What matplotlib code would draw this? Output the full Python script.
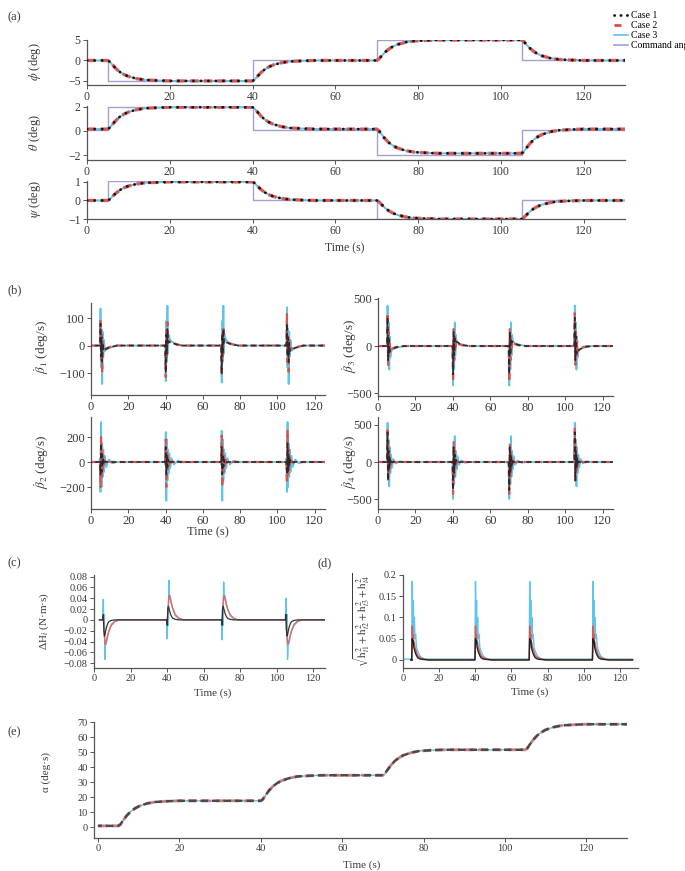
import matplotlib
matplotlib.use('Agg')
import matplotlib.pyplot as plt
from matplotlib.lines import Line2D

plt.rcParams['font.family'] = ['Liberation Serif', 'DejaVu Serif']
plt.rcParams['mathtext.fontset'] = 'stix'

# ---------------- data ----------------
steps = [5, 40, 70, 105]

# panel (a): attitude responses
t_a = [0, 5, 5.5, 6, 7, 8, 9, 10, 12, 14, 17, 20, 25, 30, 35,
       40, 40.5, 41, 42, 43, 44, 45, 47, 49, 52, 55, 60, 65,
       70, 70.5, 71, 72, 73, 74, 75, 77, 79, 82, 85, 90, 95, 100,
       105, 105.5, 106, 107, 108, 109, 110, 112, 114, 117, 120, 125, 130]
phi = [0, 0, -0.3, -0.9, -2.0, -2.85, -3.45, -3.9, -4.45, -4.75, -4.9, -5.0, -5, -5, -5,
       -5, -4.7, -4.1, -3.0, -2.15, -1.55, -1.1, -0.55, -0.25, -0.1, 0, 0, 0,
       0, 0.3, 0.9, 2.0, 2.85, 3.45, 3.9, 4.45, 4.75, 4.9, 5.0, 5, 5, 5,
       5, 4.7, 4.1, 3.0, 2.15, 1.55, 1.1, 0.55, 0.25, 0.1, 0, 0, 0]
theta = [0.15, 0.15, 0.26, 0.47, 0.87, 1.18, 1.39, 1.55, 1.75, 1.86, 1.91, 1.95, 1.95, 1.95, 1.95,
         1.95, 1.84, 1.63, 1.23, 0.92, 0.71, 0.55, 0.35, 0.24, 0.19, 0.15, 0.15, 0.15,
         0.15, 0.03, -0.21, -0.65, -0.99, -1.23, -1.41, -1.63, -1.75, -1.81, -1.85, -1.85, -1.85, -1.85,
         -1.85, -1.73, -1.49, -1.05, -0.71, -0.47, -0.29, -0.07, 0.05, 0.11, 0.15, 0.15, 0.15]
psi = [0, 0, 0.06, 0.18, 0.4, 0.57, 0.69, 0.78, 0.89, 0.95, 0.98, 1.0, 1.0, 1.0, 1.0,
       1.0, 0.94, 0.82, 0.6, 0.43, 0.31, 0.22, 0.11, 0.05, 0.02, 0, 0, 0,
       0, -0.06, -0.18, -0.4, -0.57, -0.69, -0.78, -0.89, -0.95, -0.98, -1.0, -1.0, -1.0, -1.0,
       -1.0, -0.94, -0.82, -0.6, -0.43, -0.31, -0.22, -0.11, -0.05, -0.02, 0, 0, 0]
t_cmd = [0, 5, 40, 70, 105, 130]
phi_cmd = [0, -5, 0, 5, 0, 0]
theta_cmd = [0.1, 1.95, 0.1, -1.95, 0.1, 0.1]
psi_cmd = [0, 1.05, 0, -1.0, 0, 0]

# panel (e): alpha
alpha = [0.8, 0.8, 1.8, 3.8, 7.5, 10.3, 12.3, 13.8, 15.7, 16.7, 17.2, 17.5, 17.5, 17.5, 17.5,
         17.5, 18.5, 20.6, 24.3, 27.2, 29.2, 30.8, 32.6, 33.7, 34.2, 34.5, 34.5, 34.5,
         34.5, 35.5, 37.6, 41.3, 44.2, 46.2, 47.8, 49.6, 50.7, 51.2, 51.5, 51.5, 51.5, 51.5,
         51.5, 52.5, 54.6, 58.3, 61.2, 63.2, 64.8, 66.6, 67.7, 68.2, 68.5, 68.5, 68.5]

# spike sample offsets after each command step (s)
dt_s = [-0.6, -0.2, 0.1, 0.4, 0.7, 1.0, 1.3, 1.6, 2.0, 2.5, 3.2, 4.5, 6.5, 9.0]

# panel (b) beta-dot 1
b1_c3 = [[0, 5, 135, -80, 60, -140, 50, -40, 20, -20, -15, -10, -5, 0],
         [0, -5, -130, 90, -60, 145, -30, 40, 30, 20, 15, 10, 5, 0],
         [0, -5, -135, 90, -60, 145, -30, 40, 30, 20, 15, 10, 5, 0],
         [0, 5, 140, -80, 60, -140, 50, -40, 20, -20, -15, -10, -5, 0]]
b1_c2 = [[0, 0, 90, -60, 40, -100, 20, -20, -10, -12, -10, -6, -3, 0],
         [0, 0, -115, 60, -40, 85, 10, 20, 15, 12, 10, 6, 3, 0],
         [0, 0, -110, 50, -40, 70, 10, 20, 15, 12, 10, 6, 3, 0],
         [0, 0, 115, -60, 40, -95, 20, -20, -10, -12, -10, -6, -3, 0]]
b1_c1 = [[0, 0, 80, -40, 30, -60, 10, -20, -15, -14, -12, -8, -4, 0],
         [0, 0, -100, 40, -30, 60, 10, 15, 14, 12, 10, 7, 3, 0],
         [0, 0, -100, 40, -30, 60, 10, 15, 14, 12, 10, 7, 3, 0],
         [0, 0, 80, -40, 30, -60, 10, -20, -15, -14, -12, -8, -4, 0]]
# beta-dot 2
b2_c3 = [[0, 30, -240, 320, -200, 150, -120, 100, -80, 50, -40, 20, -10, 0],
         [0, -20, 240, -310, 180, -150, 100, -90, 70, -50, 30, -20, 10, 0],
         [0, -20, 250, -310, 180, -150, 100, -90, 70, -50, 30, -20, 10, 0],
         [0, 30, -240, 320, -200, 150, -120, 100, -80, 50, -40, 20, -10, 0]]
b2_c2 = [[0, 0, -200, 200, -120, 100, -60, 40, -20, 10, -5, 0, 0, 0],
         [0, 0, 180, -200, 100, -80, 50, -30, 20, -10, 5, 0, 0, 0],
         [0, 0, 210, -200, 100, -80, 50, -30, 20, -10, 5, 0, 0, 0],
         [0, 0, -170, 250, -120, 100, -60, 40, -20, 10, -5, 0, 0, 0]]
b2_c1 = [[0, 0, -100, 150, -80, 60, -30, 20, -10, 5, 0, 0, 0, 0],
         [0, 0, 120, -100, 60, -40, 20, -10, 5, 0, 0, 0, 0, 0],
         [0, 0, 120, -100, 60, -40, 20, -10, 5, 0, 0, 0, 0, 0],
         [0, 0, -100, 150, -80, 60, -30, 20, -10, 5, 0, 0, 0, 0]]
# beta-dot 3
b3_c3 = [[0, 20, 430, -150, 250, -250, 100, -120, -60, -40, -30, -20, -10, 0],
         [0, -20, -420, 150, -250, 250, -100, 120, 60, 40, 30, 20, 10, 0],
         [0, -20, -420, 150, -250, 250, -100, 120, 60, 40, 30, 20, 10, 0],
         [0, 20, 430, -150, 250, -250, 100, -120, -60, -40, -30, -20, -10, 0]]
b3_c2 = [[0, 0, 350, -200, 150, -100, 50, -60, -40, -30, -20, -10, -5, 0],
         [0, 0, -380, 180, -150, 100, -50, 60, 40, 30, 20, 10, 5, 0],
         [0, 0, -380, 180, -150, 100, -50, 60, 40, 30, 20, 10, 5, 0],
         [0, 0, 350, -200, 150, -100, 50, -60, -40, -30, -20, -10, -5, 0]]
b3_c1 = [[0, 0, 300, -150, 100, -80, -40, -50, -45, -40, -30, -15, -5, 0],
         [0, 0, -300, 150, -100, 80, 40, 50, 45, 40, 30, 15, 5, 0],
         [0, 0, -300, 150, -100, 80, 40, 50, 45, 40, 30, 15, 5, 0],
         [0, 0, 300, -150, 100, -80, -40, -50, -45, -40, -30, -15, -5, 0]]
# beta-dot 4
b4_c3 = [[0, 30, 530, -200, 300, -330, 200, -150, 100, -80, 40, -20, 10, 0],
         [0, -30, -500, 200, -300, 350, -200, 150, -100, 80, -40, 20, -10, 0],
         [0, -30, -500, 200, -300, 350, -200, 150, -100, 80, -40, 20, -10, 0],
         [0, 30, 530, -200, 300, -330, 200, -150, 100, -80, 40, -20, 10, 0]]
b4_c2 = [[0, 0, 460, -250, 200, -150, 80, -50, 20, -10, 5, 0, 0, 0],
         [0, 0, -430, 270, -200, 150, -80, 50, -20, 10, -5, 0, 0, 0],
         [0, 0, -430, 250, -200, 150, -80, 50, -20, 10, -5, 0, 0, 0],
         [0, 0, 470, -250, 200, -150, 80, -50, 20, -10, 5, 0, 0, 0]]
b4_c1 = [[0, 0, 400, -250, 150, -100, 50, -30, 10, 0, 0, 0, 0, 0],
         [0, 0, -380, 200, -150, 100, -50, 30, -10, 0, 0, 0, 0, 0],
         [0, 0, -380, 200, -150, 100, -50, 30, -10, 0, 0, 0, 0, 0],
         [0, 0, 400, -250, 150, -100, 50, -30, 10, 0, 0, 0, 0, 0]]

# panel (c) delta H
c_c3 = [[0, 0, 0.038, -0.02, 0.01, -0.073, -0.04, -0.045, -0.04, -0.03, -0.02, -0.008, -0.002, 0],
        [0, 0, -0.035, 0.02, -0.01, 0.073, 0.04, 0.045, 0.04, 0.03, 0.02, 0.008, 0.002, 0],
        [0, 0, -0.037, 0.02, -0.01, 0.07, 0.04, 0.045, 0.04, 0.03, 0.02, 0.008, 0.002, 0],
        [0, 0, 0.04, -0.02, 0.01, -0.073, -0.04, -0.045, -0.04, -0.03, -0.02, -0.008, -0.002, 0]]
c_c2 = [[0, 0, 0.005, -0.01, -0.03, -0.045, -0.044, -0.04, -0.035, -0.028, -0.02, -0.01, -0.003, 0],
        [0, 0, -0.005, 0.01, 0.03, 0.045, 0.044, 0.04, 0.035, 0.028, 0.02, 0.01, 0.003, 0],
        [0, 0, -0.005, 0.01, 0.03, 0.045, 0.044, 0.04, 0.035, 0.028, 0.02, 0.01, 0.003, 0],
        [0, 0, 0.005, -0.01, -0.03, -0.045, -0.044, -0.04, -0.035, -0.028, -0.02, -0.01, -0.003, 0]]
c_c1 = [[0, 0, 0.01, -0.02, -0.03, -0.028, -0.022, -0.017, -0.012, -0.007, -0.003, -0.001, 0, 0],
        [0, 0, -0.01, 0.02, 0.025, 0.022, 0.018, 0.014, 0.01, 0.006, 0.003, 0.001, 0, 0],
        [0, 0, -0.01, 0.02, 0.025, 0.022, 0.018, 0.014, 0.01, 0.006, 0.003, 0.001, 0, 0],
        [0, 0, 0.01, -0.02, -0.03, -0.028, -0.022, -0.017, -0.012, -0.007, -0.003, -0.001, 0, 0]]

# panel (d) wheel momentum norm
d_c3 = [[0.002, 0.002, 0.185, 0.08, 0.14, 0.06, 0.1, 0.05, 0.06, 0.03, 0.02, 0.008, 0.003, 0.002]] * 4
d_c2 = [[0, 0, 0.08, 0.05, 0.06, 0.04, 0.04, 0.03, 0.025, 0.018, 0.01, 0.005, 0.002, 0]] * 4
d_c1 = [[0, 0, 0.05, 0.04, 0.045, 0.03, 0.025, 0.02, 0.015, 0.01, 0.005, 0.002, 0.001, 0]] * 4

c_yticks = [-0.08, -0.06, -0.04, -0.02, 0, 0.02, 0.04, 0.06, 0.08]
c_ylabels = ['−0.08', '−0.06', '−0.04', '−0.02', '0', '0.02', '0.04', '0.06', '0.08']
d_yticks = [0, 0.05, 0.1, 0.15, 0.2]
d_ylabels = ['0', '0.05', '0.1', '0.15', '0.2']
legend_labels = ['Case 1', 'Case 2', 'Case 3', 'Command angle']

# ---------------- styling ----------------
W, H = 685, 871
C_CMD = '#a3a0d6'
C1 = '#151515'
C2 = '#e2493f'
C3 = '#5ec4ec'
AXC = '#555555'
TXT = '#3a3a3a'

fig = plt.figure(figsize=(W / 100, H / 100), dpi=100)


def add_ax(l, t, r, b):
    return fig.add_axes([l / W, 1 - b / H, (r - l) / W, (b - t) / H])


def style(ax, xlim, ylim, yticks, fs, ylabels=None):
    ax.set_xlim(*xlim)
    ax.set_ylim(*ylim)
    ax.set_xticks([0, 20, 40, 60, 80, 100, 120])
    ax.set_yticks(yticks)
    if ylabels is not None:
        ax.set_yticklabels(ylabels)
    for s in ['top', 'right']:
        ax.spines[s].set_visible(False)
    for s in ['left', 'bottom']:
        ax.spines[s].set_color(AXC)
        ax.spines[s].set_linewidth(0.9)
    ax.tick_params(colors=AXC, labelcolor=TXT, length=3, width=0.7,
                   labelsize=fs, pad=1.5)
    ax.patch.set_alpha(0)


def ftext(x, y, s, fs, rot=0, ha='center'):
    fig.text(x / W, 1 - y / H, s, fontsize=fs, rotation=rot, ha=ha,
             va='center', color=TXT)


def spike(start, end, blocks, base=0.0):
    t = [start]
    y = [base]
    for T, blk in zip(steps, blocks):
        t += [T + d for d in dt_s]
        y += list(blk)
    t.append(end)
    y.append(base)
    return t, y


def draw_cases(ax, t, y1, y2, y3, cmd=None, lwscale=1.0):
    if cmd is not None:
        ax.plot(t_cmd, cmd, color=C_CMD, lw=1.0, drawstyle='steps-post', zorder=1)
    ax.plot(t, y3, color=C3, lw=1.4 * lwscale, zorder=2)
    ax.plot(t, y2, color=C2, lw=2.4 * lwscale, ls=(0, (2.5, 1.6)), alpha=0.85, zorder=3)
    ax.plot(t, y1, color=C1, lw=2.0 * lwscale, ls=(0, (0.1, 2.6)),
            dash_capstyle='round', zorder=4)


# ---------------- panel (a) ----------------
axp = add_ax(87, 40, 625, 85)
axt = add_ax(87, 106, 625, 160)
axs = add_ax(87, 181, 625, 219)
draw_cases(axp, t_a, phi, phi, phi, phi_cmd)
draw_cases(axt, t_a, theta, theta, theta, theta_cmd)
draw_cases(axs, t_a, psi, psi, psi, psi_cmd)
style(axp, (0, 130), (-6, 5), [-5, 0, 5], 8.5, ['−5', '0', '5'])
style(axt, (0, 130), (-2.4, 2.05), [-2, 0, 2], 8.5, ['−2', '0', '2'])
style(axs, (0, 130), (-1.0, 1.05), [-1, 0, 1], 8.5, ['−1', '0', '1'])
ftext(35, 62, r'$\phi$ (deg)', 9, 90)
ftext(35, 133, r'$\theta$ (deg)', 9, 90)
ftext(35, 199, r'$\psi$ (deg)', 9, 90)
ftext(345, 248, 'Time (s)', 8.5)
ftext(8, 17, '(a)', 9, ha='left')

handles = [Line2D([], [], color=C1, lw=2.0, ls=(0, (0.1, 2.2)), dash_capstyle='round'),
           Line2D([], [], color=C2, lw=2.0, ls=(0, (2.5, 10))),
           Line2D([], [], color=C3, lw=1.2),
           Line2D([], [], color=C_CMD, lw=1.2)]
fig.legend(handles, legend_labels, loc='upper left',
           bbox_to_anchor=(614 / W, 1 - 11 / H), frameon=False, fontsize=7,
           handlelength=1.4, handletextpad=0.3, labelspacing=0.1,
           borderaxespad=0, borderpad=0)

# ---------------- panel (b) ----------------
panels_b = [
    ((91, 303, 325, 395), b1_c1, b1_c2, b1_c3, (-180, 155), [-100, 0, 100], ['−100', '0', '100'], (42, 347), 1),
    ((91, 417, 325, 509), b2_c1, b2_c2, b2_c3, (-376, 360), [-200, 0, 200], ['−200', '0', '200'], (42, 462), 2),
    ((378, 298, 613, 396), b3_c1, b3_c2, b3_c3, (-530, 510), [-500, 0, 500], ['−500', '0', '500'], (350, 346), 3),
    ((378, 417, 613, 509), b4_c1, b4_c2, b4_c3, (-635, 608), [-500, 0, 500], ['−500', '0', '500'], (350, 462), 4),
]
for box, k1, k2, k3, ylim, yt, yl, lab, idx in panels_b:
    ax = add_ax(*box)
    t3, y3 = spike(0, 127, k3)
    t2, y2 = spike(0, 127, k2)
    t1, y1 = spike(0, 127, k1)
    ax.plot(t3, y3, color=C3, lw=1.3, zorder=2)
    ax.plot(t2, y2, color=C2, lw=1.6, ls=(0, (3, 2)), alpha=0.9, zorder=3)
    ax.plot(t1, y1, color='#2a2a2a', lw=1.2, ls=(2.5, (3, 2)), zorder=4)
    style(ax, (0, 125.5), ylim, yt, 9, yl)
    ftext(lab[0], lab[1], r'$\dot{\beta}_{%d}$ (deg/s)' % idx, 9.5, 90)
ftext(208, 532, 'Time (s)', 9)
ftext(8, 290, '(b)', 9, ha='left')

# ---------------- panel (c) ----------------
axc = add_ax(94, 575, 325, 668)
t3, y3 = spike(3, 127, c_c3)
t2, y2 = spike(3, 127, c_c2)
t1, y1 = spike(3, 127, c_c1)
axc.plot(t3, y3, color=C3, lw=1.0, zorder=2)
axc.plot(t2, y2, color='#e06a62', lw=1.0, zorder=3)
axc.plot(t1, y1, color='#333333', lw=0.9, zorder=4)
style(axc, (0, 126.5), (-0.089, 0.083), c_yticks, 7.5, c_ylabels)
ftext(44, 621, r'ΔH$_i$ (N·m·s)', 8, 90)
ftext(213, 693, 'Time (s)', 8)
ftext(8, 563, '(c)', 9, ha='left')

# ---------------- panel (d) ----------------
axd = add_ax(403, 575, 638, 668)
t3, y3 = spike(0, 127, d_c3, 0.002)
t2, y2 = spike(5, 127, d_c2)
t1, y1 = spike(5, 127, d_c1)
axd.plot(t3, y3, color=C3, lw=1.0, zorder=2)
axd.plot(t2, y2, color='#e0574d', lw=1.0, zorder=3)
axd.plot(t1, y1, color='#222222', lw=1.0, zorder=4)
style(axd, (0, 130), (-0.019, 0.2), d_yticks, 7.5, d_ylabels)
ftext(362, 620, r'$\sqrt{\mathrm{h}^2_{t1}+\mathrm{h}^2_{t2}+\mathrm{h}^2_{t3}+\mathrm{h}^2_{t4}}$', 8, 90)
ftext(530, 692, 'Time (s)', 8)
ftext(318, 563, '(d)', 9, ha='left')

# ---------------- panel (e) ----------------
axe = add_ax(94, 722, 627, 838)
axe.plot(t_a, alpha, color=C3, lw=1.0, zorder=2)
axe.plot(t_a, alpha, color=C2, lw=2.2, ls=(0, (3, 1.6)), alpha=0.6, zorder=3)
axe.plot(t_a, alpha, color='#4a4a4a', lw=1.8, ls=(1.5, (3, 1.6)), zorder=4)
style(axe, (-1, 130), (-7.3, 70), [0, 10, 20, 30, 40, 50, 60, 70], 7.5)
ftext(46, 772, 'α (deg·s)', 8, 90)
ftext(362, 865, 'Time (s)', 8)
ftext(8, 732, '(e)', 9, ha='left')

fig.savefig('out.png', dpi=100)
